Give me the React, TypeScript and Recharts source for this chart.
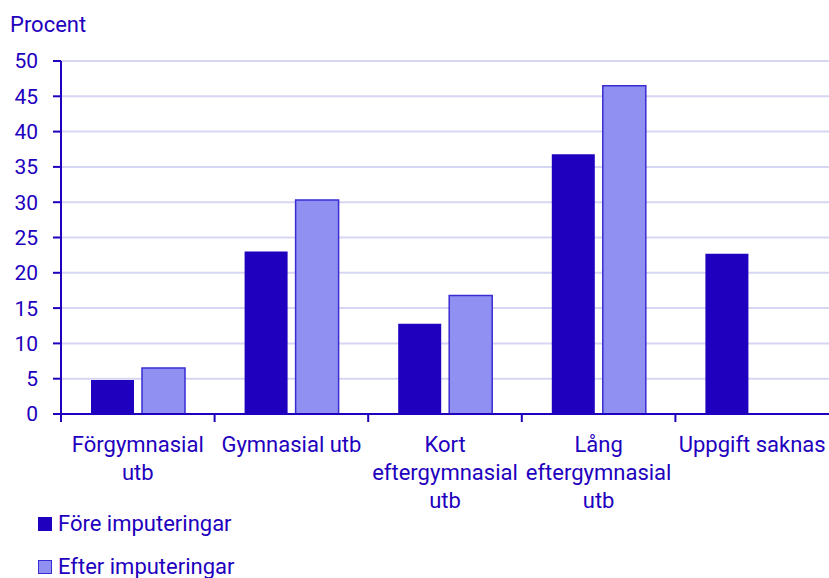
import React from 'react';
import { BarChart, Bar, XAxis, YAxis, CartesianGrid, Legend } from 'recharts';

const categories = [
  'Förgymnasial utb',
  'Gymnasial utb',
  'Kort eftergymnasial utb',
  'Lång eftergymnasial utb',
  'Uppgift saknas',
];
const foreValues = [4.8, 23.0, 12.8, 36.8, 22.7];
const efterValues: (number | null)[] = [6.5, 30.3, 16.8, 46.5, null];
const seriesNames = ['Före imputeringar', 'Efter imputeringar'];
const yTicks = [0, 5, 10, 15, 20, 25, 30, 35, 40, 45, 50];

const data = categories.map((category, i) => ({
  category,
  fore: foreValues[i],
  efter: efterValues[i],
}));

const BLUE = '#1e00be';
const LIGHT = '#8f90f2';
const LIGHT_STROKE = '#3a2cd2';
const GRID = '#d6d6f2';
const FONT = 'Roboto, "Noto Sans", sans-serif';
const FONT_SIZE = 22;

const WIDTH = 829;
const HEIGHT = 578;
const PLOT_LEFT = 61;
const bandWidth = (WIDTH - PLOT_LEFT) / categories.length;

let ctx: CanvasRenderingContext2D | null = null;
const measure = (s: string) => {
  if (!ctx) {
    ctx = document.createElement('canvas').getContext('2d');
    if (ctx) ctx.font = `${FONT_SIZE}px Roboto`;
  }
  return ctx ? ctx.measureText(s).width : s.length * FONT_SIZE * 0.5;
};

// simple word wrap to the band width
const wrap = (label: string, maxWidth: number) => {
  const words = label.split(' ');
  const lines: string[] = [];
  let cur = '';
  words.forEach((w) => {
    const next = cur ? cur + ' ' + w : w;
    if (cur && measure(next) > maxWidth) {
      lines.push(cur);
      cur = w;
    } else {
      cur = next;
    }
  });
  if (cur) lines.push(cur);
  return lines;
};

const XTick = ({ x, y, payload }: any) => {
  const axisY = y - 24; // tickSize 8 + tickMargin 16
  const left = x - bandWidth / 2;
  const lines = wrap(String(payload.value), 150);
  return (
    <g>
      <line x1={left} x2={left} y1={axisY} y2={axisY + 8} stroke={BLUE} strokeWidth={2} />
      <text x={x} y={y + 14} textAnchor="middle" fill={BLUE} fontSize={FONT_SIZE} fontFamily={FONT}>
        {lines.map((line, i) => (
          <tspan key={i} x={x} dy={i === 0 ? 0 : 28}>
            {line}
          </tspan>
        ))}
      </text>
    </g>
  );
};

const LegendContent = () => (
  <div style={{ display: 'flex', flexDirection: 'column', gap: 23, fontFamily: FONT }}>
    {seriesNames.map((name, i) => (
      <div
        key={name}
        style={{
          height: 20,
          display: 'flex',
          alignItems: 'center',
          color: BLUE,
          fontSize: FONT_SIZE,
          lineHeight: '20px',
          whiteSpace: 'nowrap',
        }}
      >
        <span
          style={{
            display: 'inline-block',
            width: 12,
            height: 12,
            background: i === 0 ? BLUE : LIGHT,
            border: `1px solid ${i === 0 ? BLUE : LIGHT_STROKE}`,
            marginRight: 6,
          }}
        />
        {name}
      </div>
    ))}
  </div>
);

export default function App() {
  return (
    <div style={{ position: 'absolute', left: 0, top: 0, fontFamily: FONT }}>
      <BarChart
        width={WIDTH}
        height={HEIGHT}
        data={data}
        margin={{ top: 61, right: 0, bottom: 11, left: 0 }}
        barCategoryGap={30}
        barGap={8}
      >
        <CartesianGrid vertical={false} stroke={GRID} strokeWidth={2} />
        <XAxis
          dataKey="category"
          interval={0}
          height={90}
          tickSize={8}
          tickMargin={16}
          tickLine={false}
          axisLine={{ stroke: BLUE, strokeWidth: 2 }}
          tick={<XTick />}
        />
        <YAxis
          width={PLOT_LEFT}
          domain={[0, 50]}
          ticks={yTicks}
          interval={0}
          tickSize={8}
          tickMargin={15}
          axisLine={{ stroke: BLUE, strokeWidth: 2 }}
          tickLine={{ stroke: BLUE, strokeWidth: 2 }}
          tick={{ fill: BLUE, fontSize: 21, fontFamily: FONT }}
          label={() => (
            <text x={10} y={32} fill={BLUE} fontSize={FONT_SIZE} fontFamily={FONT}>
              Procent
            </text>
          )}
        />
        <Legend
          verticalAlign="bottom"
          align="left"
          content={<LegendContent />}
          wrapperStyle={{ top: 514, left: 38, bottom: 'auto', width: 'auto' }}
        />
        <Bar dataKey="fore" name={seriesNames[0]} fill={BLUE} isAnimationActive={false} />
        <Bar
          dataKey="efter"
          name={seriesNames[1]}
          fill={LIGHT}
          stroke={LIGHT_STROKE}
          strokeWidth={1.5}
          isAnimationActive={false}
        />
      </BarChart>
    </div>
  );
}
